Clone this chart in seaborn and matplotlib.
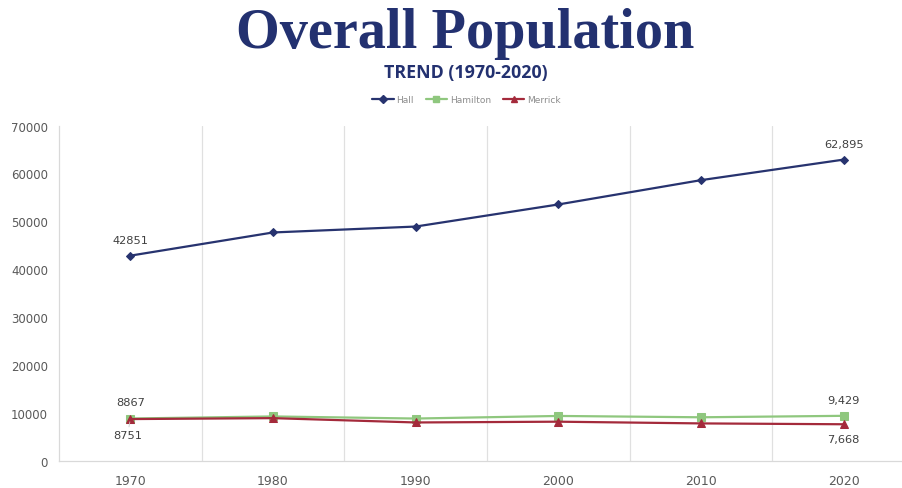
import pandas as pd
import seaborn as sns
import matplotlib.pyplot as plt

# values
years = [1970, 1980, 1990, 2000, 2010, 2020]
hall = [42851, 47690, 48925, 53534, 58607, 62895]
hamilton = [8867, 9301, 8862, 9403, 9124, 9429]
merrick = [8751, 8945, 8042, 8204, 7845, 7668]
counties = ["Hall", "Hamilton", "Merrick"]
y_ticks = [0, 10000, 20000, 30000, 40000, 50000, 60000, 70000]

df = pd.DataFrame({
    "Year": years * 3,
    "Population": hall + hamilton + merrick,
    "County": [c for c in counties for _ in years],
})

colors = {"Hall": "#27336F", "Hamilton": "#8FC77E", "Merrick": "#A42A3B"}
markers = {"Hall": "D", "Hamilton": "s", "Merrick": "^"}
msize = {"Hall": 4.2, "Hamilton": 5.5, "Merrick": 5.5}

sns.set_style("white")
plt.rcParams["font.family"] = ["DejaVu Sans"]

fig = plt.figure(figsize=(9.02, 4.89), dpi=100)
ax = fig.add_axes([0.0654, 0.0552, 0.949, 0.686])

sns.lineplot(data=df, x="Year", y="Population", hue="County", style="County",
             palette=colors, markers=markers, dashes=False, linewidth=1.6,
             markersize=6, ax=ax, legend=False)
# markers outlined in their own colour, not white; diamonds are smaller
for ln, c in zip(ax.lines, counties):
    ln.set_markeredgecolor(ln.get_color())
    ln.set_markersize(msize[c])

ax.set_xlim(1965, 2025)
ax.set_ylim(0, 70000)
ax.set_xticks(years)
ax.set_xticks([1975, 1985, 1995, 2005, 2015], minor=True)
ax.set_yticks(y_ticks)
ax.grid(False)
ax.grid(True, which="minor", axis="x", color="#E0E0E0", linewidth=0.9)
ax.tick_params(axis="both", which="both", length=0)
ax.tick_params(axis="x", labelsize=9, labelcolor="#595959", pad=9)
ax.tick_params(axis="y", labelsize=8.5, labelcolor="#595959", pad=8)
ax.set_xlabel("")
ax.set_ylabel("")
for s in ["top", "right"]:
    ax.spines[s].set_visible(False)
for s in ["left", "bottom"]:
    ax.spines[s].set_color("#D9D9D9")
    ax.spines[s].set_linewidth(0.9)

# data labels at the ends
lab = dict(fontsize=8.2, color="#404040", ha="center")
ax.annotate(f"{hall[0]}", (years[0], hall[0]), xytext=(0, 7.5), textcoords="offset points", va="bottom", **lab)
ax.annotate(f"{hall[-1]:,}", (years[-1], hall[-1]), xytext=(0, 7.5), textcoords="offset points", va="bottom", **lab)
ax.annotate(f"{hamilton[0]}", (years[0], hamilton[0]), xytext=(0, 8), textcoords="offset points", va="bottom", **lab)
ax.annotate(f"{hamilton[-1]:,}", (years[-1], hamilton[-1]), xytext=(0, 7.5), textcoords="offset points", va="bottom", **lab)
ax.annotate(f"{merrick[0]}", (years[0], merrick[0]), xytext=(-2, -8), textcoords="offset points", va="top",
            arrowprops=dict(arrowstyle="-", color="#C8C8C8", lw=0.6, shrinkA=0, shrinkB=2), **lab)
ax.annotate(f"{merrick[-1]:,}", (years[-1], merrick[-1]), xytext=(0, -7), textcoords="offset points", va="top", **lab)

# titles
fig.text(0.516, 0.9018, "Overall Population", fontsize=40.5, fontweight="bold",
         family="Liberation Serif", color="#233170", ha="center", va="baseline")
fig.text(0.516, 0.8405, "TREND (1970-2020)", fontsize=12.8, fontweight="bold",
         family="Open Sans", color="#233170", ha="center", va="baseline")

# legend
handles = [plt.Line2D([], [], color=colors[c], marker=markers[c], markersize=4,
                      linewidth=1.6) for c in counties]
fig.legend(handles, counties, loc="center", bbox_to_anchor=(0.517, 0.7935), ncol=3,
           frameon=False, fontsize=6.5, labelcolor="#8C8C8C", handlelength=2.4,
           handletextpad=0.3, columnspacing=1.3)

fig.savefig("out.png", dpi=100)
